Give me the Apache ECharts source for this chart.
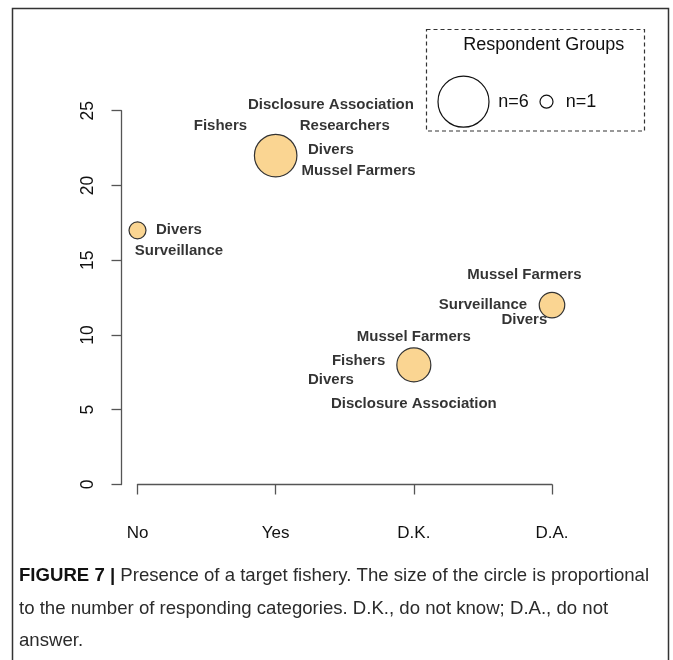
<!DOCTYPE html>
<html>
<head>
<meta charset="utf-8">
<script src="https://cdn.jsdelivr.net/npm/echarts@6/dist/echarts.min.js"></script>
<style>
  html, body { margin: 0; padding: 0; background: #fff; }
  #myChart { width: 673px; height: 660px; }
</style>
</head>
<body>
<div id="myChart"></div>
<script>
// answer categories on the x axis
const categories = ["No", "Yes", "D.K.", "D.A."]
// number of answers per category
const answers = [17, 22, 8, 12]
// number of respondent groups behind each point
const groupCounts = [2, 5, 4, 3]

// group names written next to the points (data coordinates, x = category index 1..4)
const labelText = [
  "Divers", "Surveillance",
  "Disclosure Association", "Fishers", "Researchers", "Divers", "Mussel Farmers",
  "Mussel Farmers", "Fishers", "Divers", "Disclosure Association",
  "Mussel Farmers", "Surveillance", "Divers",
]
const labelX = [1.3, 1.3, 2.4, 1.6, 2.5, 2.4, 2.6, 3.0, 2.6, 2.4, 3.0, 3.8, 3.5, 3.8]
const labelY = [17, 15.6, 25.4, 24, 24, 22.4, 21, 9.9, 8.3, 7, 5.4, 14, 12, 11]

const yTicks = [0, 5, 10, 15, 20, 25]

// circle diameter grows with the number of groups
function circleSize(n) {
  return Math.max(13, 8.5 * n)
}

const font = "'Liberation Sans', Arial, sans-serif"
const axisColor = "#555"

let myChart = echarts.init(document.getElementById("myChart"))

myChart.setOption({
  animation: false,
  grid: {
    left: 137.5,
    right: 121,
    top: 110.7,
    bottom: 175.5,
  },
  xAxis: {
    type: "value",
    min: 1,
    max: 4,
    interval: 1,
    offset: 15,
    axisLine: { lineStyle: { color: axisColor, width: 1.3 } },
    axisTick: { length: 10, lineStyle: { color: axisColor, width: 1.3 } },
    axisLabel: {
      margin: 25,
      fontFamily: font,
      fontSize: 17,
      color: "#111",
      formatter: (v) => categories[v - 1],
    },
    splitLine: { show: false },
  },
  yAxis: {
    type: "value",
    min: yTicks[0],
    max: yTicks[yTicks.length - 1],
    interval: 5,
    offset: 16,
    axisLine: { show: true, lineStyle: { color: axisColor, width: 1.3 } },
    axisTick: { show: true, length: 10, lineStyle: { color: axisColor, width: 1.3 } },
    axisLabel: {
      rotate: 90,
      margin: 24,
      fontFamily: font,
      fontSize: 17.5,
      color: "#111",
    },
    splitLine: { show: false },
  },
  graphic: [
    // outer figure frame
    {
      type: "rect",
      shape: { x: 12.5, y: 8.5, width: 656, height: 680 },
      style: { fill: "none", stroke: "#333", lineWidth: 1.5 },
      silent: true,
    },
    // legend box
    {
      type: "rect",
      shape: { x: 426.5, y: 29.5, width: 218, height: 101.5 },
      style: { fill: "none", stroke: "#333", lineWidth: 1.2, lineDash: [4, 3] },
      silent: true,
    },
    {
      type: "text",
      x: 543.8,
      y: 45,
      style: {
        text: "Respondent Groups",
        font: "18px " + font,
        fill: "#111",
        align: "center",
        verticalAlign: "middle",
      },
    },
    {
      type: "circle",
      shape: { cx: 463.5, cy: 101.7, r: circleSize(6) / 2 },
      style: { fill: "none", stroke: "#111", lineWidth: 1.2 },
    },
    {
      type: "text",
      x: 498.3,
      y: 101.7,
      style: { text: "n=6", font: "18px " + font, fill: "#111", verticalAlign: "middle" },
    },
    {
      type: "circle",
      shape: { cx: 546.5, cy: 101.7, r: circleSize(1) / 2 },
      style: { fill: "none", stroke: "#111", lineWidth: 1.2 },
    },
    {
      type: "text",
      x: 565.7,
      y: 101.7,
      style: { text: "n=1", font: "18px " + font, fill: "#111", verticalAlign: "middle" },
    },
    // figure caption
    {
      type: "text",
      x: 19,
      y: 560,
      style: {
        text:
          "{b|FIGURE 7 |} Presence of a target fishery. The size of the circle is proportional\n" +
          "to the number of responding categories. D.K., do not know; D.A., do not\n" +
          "answer.",
        font: "18.6px " + font,
        fill: "#2b2b2b",
        lineHeight: 32.5,
        rich: {
          b: {
            fontFamily: font,
            fontSize: 18.6,
            fontWeight: "bold",
            lineHeight: 32.5,
            fill: "#111",
          },
        },
      },
    },
  ],
  series: [
    {
      name: "answers",
      type: "scatter",
      clip: false,
      data: categories.map((c, i) => [i + 1, answers[i], groupCounts[i]]),
      symbolSize: (d) => circleSize(d[2]),
      itemStyle: {
        color: "#FAD592",
        borderColor: "#333",
        borderWidth: 1.2,
        opacity: 1,
      },
      emphasis: { disabled: true },
      z: 2,
    },
    {
      name: "groups",
      type: "scatter",
      clip: false,
      silent: true,
      symbolSize: 0,
      itemStyle: { color: "#000" },
      data: labelText.map((t, i) => ({ name: t, value: [labelX[i], labelY[i]] })),
      label: {
        show: true,
        position: "inside",
        formatter: (p) => p.name,
        fontFamily: font,
        fontWeight: "bold",
        fontSize: 15,
        color: "#000",
        textBorderWidth: 0,
      },
      emphasis: { disabled: true },
      z: 3,
    },
  ],
})

window.addEventListener("resize", () => {
  myChart.resize()
})
</script>
</body>
</html>
